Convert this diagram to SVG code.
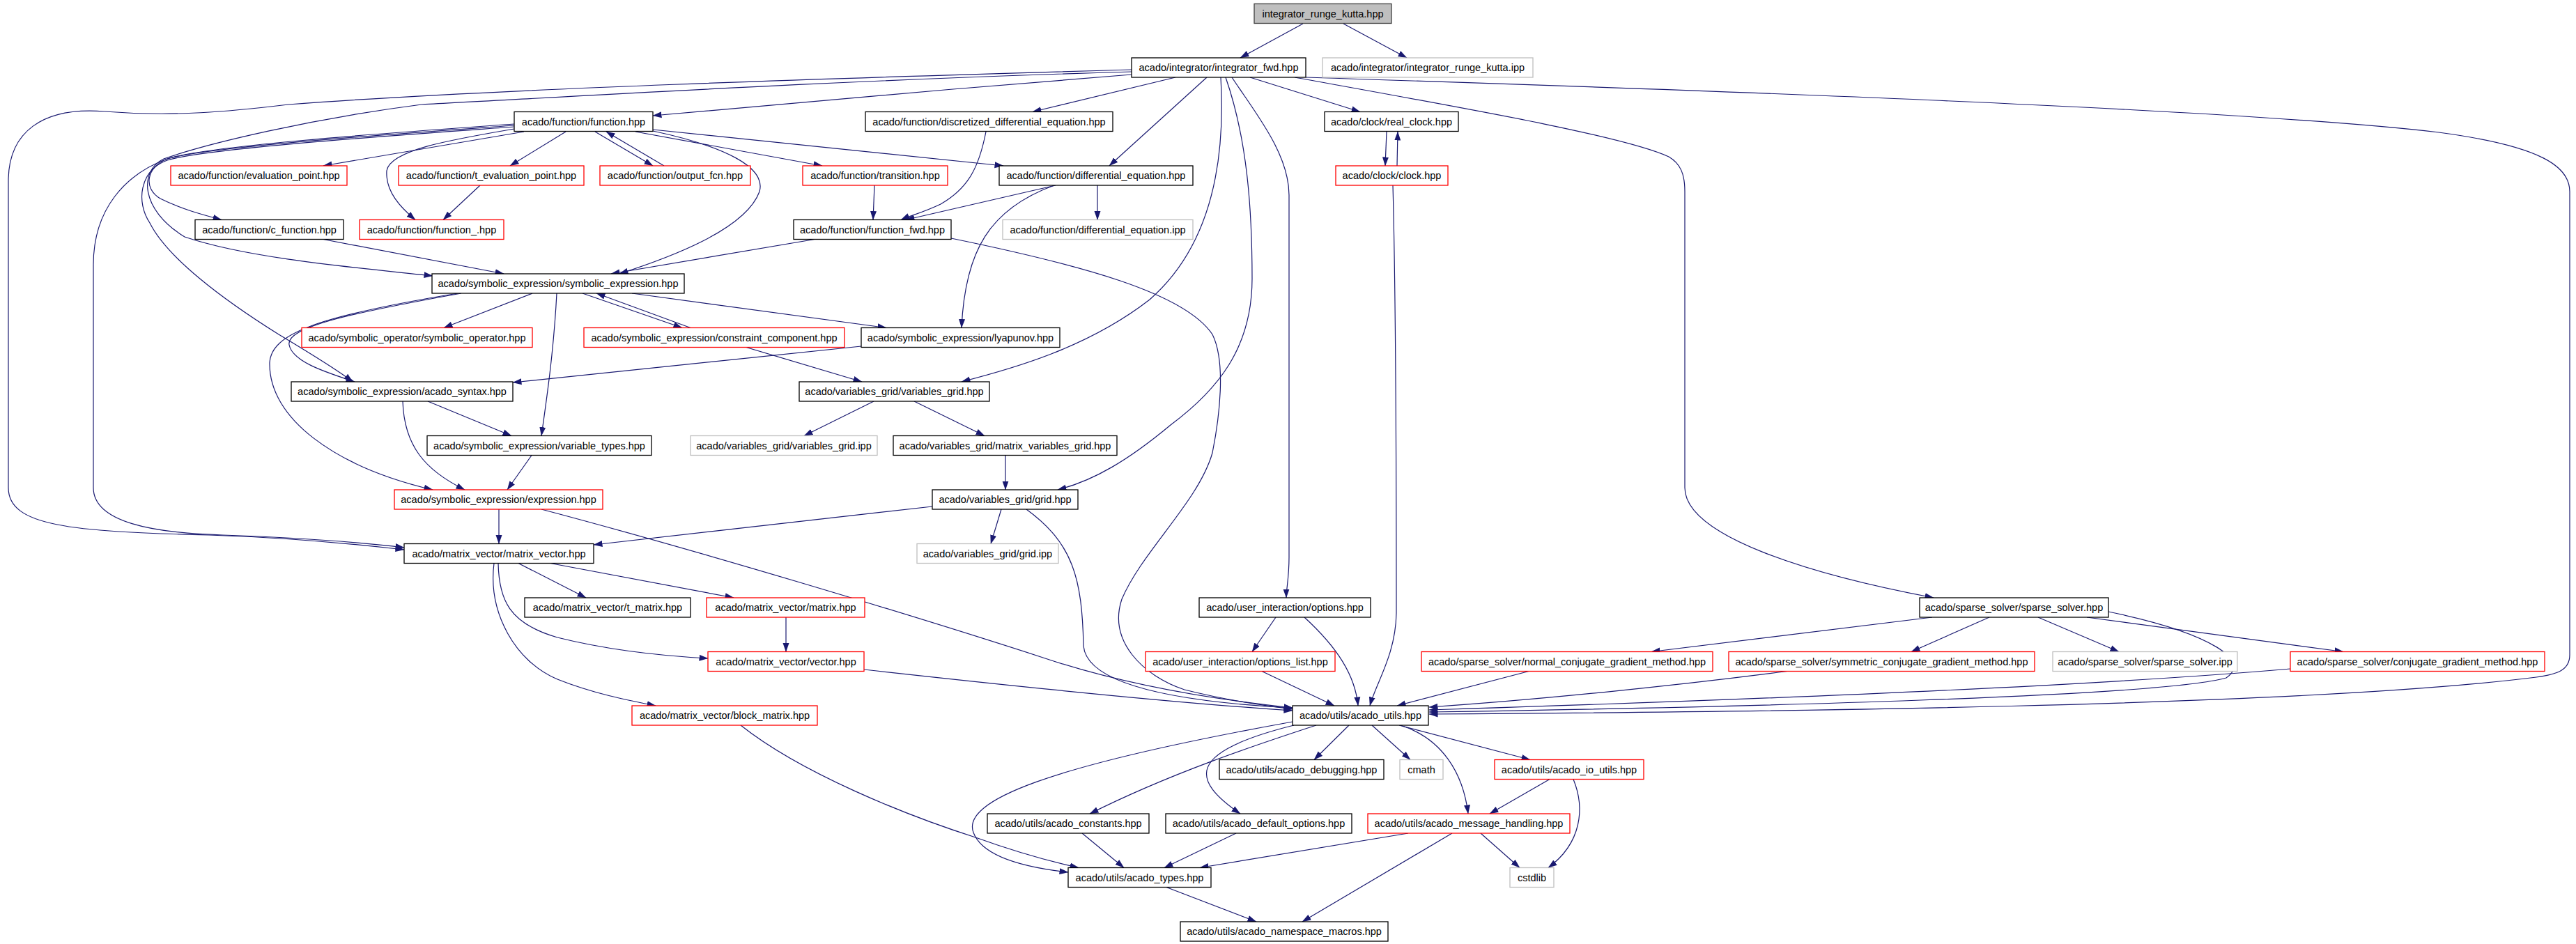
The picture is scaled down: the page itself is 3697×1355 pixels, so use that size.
<svg xmlns="http://www.w3.org/2000/svg" width="3697" height="1355" viewBox="0 0 3697 1355">
<style>
rect.n{fill:#fff;stroke:#000;stroke-width:1.3}
rect.r{fill:#fff;stroke:#ff0000;stroke-width:1.3}
rect.g{fill:#fff;stroke:#bfbfbf;stroke-width:1.3}
rect.root{fill:#bfbfbf;stroke:#404040;stroke-width:1.3}
text{font-family:"Liberation Sans",Arial,sans-serif;font-size:14.5px;text-anchor:middle;fill:#000}
path.e{fill:none;stroke:#191970;stroke-width:1.2;marker-end:url(#a)}
</style>
<defs>
<marker id="a" markerUnits="userSpaceOnUse" markerWidth="13" markerHeight="10" viewBox="0 0 13 10" refX="12.5" refY="5" orient="auto"><path d="M0,0.5 L13,5 L0,9.5 z" fill="#191970"/></marker>
</defs>
<rect x="0" y="0" width="3697" height="1355" fill="#fff"/>
<g id="edges">
<path class="e" d="M1870,34 L1780,83"/>
<path class="e" d="M1928,34 L2019,83"/>
<path class="e" d="M1624,107 C1400,125 1100,150 937,166"/>
<path class="e" d="M1687,111 L1482,160.5"/>
<path class="e" d="M1732,111 L1592,238"/>
<path class="e" d="M1794,111 L1952,160.5"/>
<path class="e" d="M1858,111 C2100,155 2330,195 2395,225 C2412,235 2418,250 2418,275 L2418,700 C2418,770 2600,825 2775,858"/>
<path class="e" d="M1874,111 C2400,128 3200,155 3500,190 C3650,210 3688,240 3688,275 L3688,940 C3688,962 3670,968 3640,972 C3300,1015 2500,1022 2051,1025"/>
<path class="e" d="M1624,100 C1200,112 700,128 414,150 C330,160 250,168 150,160 C60,153 12,190 12,260 L12,700 C12,755 100,763 300,768 C420,772 520,782 580,789"/>
<path class="e" d="M1624,103 C1200,115 800,140 605,150 C450,170 300,205 235,228 C200,245 200,300 265,340 C360,372 520,385 621,396"/>
<path class="e" d="M738,180 C600,190 300,210 240,228 C210,240 205,270 230,285 C260,300 290,308 318,315.5"/>
<path class="e" d="M738,182 C600,192 300,212 240,230 C200,245 195,290 215,320 C240,370 320,430 400,480 C450,510 490,535 506,548"/>
<path class="e" d="M738,178 C600,188 300,208 240,228 C180,250 134,300 134,380 L134,700 C134,750 220,765 320,768 C440,772 530,780 580,786"/>
<path class="e" d="M738,185 C650,200 560,215 555,245 C553,275 575,298 596,315.5"/>
<path class="e" d="M752,189 L464,238"/>
<path class="e" d="M812,189 L732,238"/>
<path class="e" d="M854,189 L937,238"/>
<path class="e" d="M953,238 L870,189"/>
<path class="e" d="M912,189 L1180,238"/>
<path class="e" d="M937,186 L1440,238"/>
<path class="e" d="M937,188 C1040,210 1100,240 1090,275 C1070,330 960,370 889,393"/>
<path class="e" d="M689,266 L636,315.5"/>
<path class="e" d="M1255,266 L1253,315.5"/>
<path class="e" d="M1515,266 L1300,315.5"/>
<path class="e" d="M1415,189 C1405,240 1390,270 1350,293 C1325,305 1305,310 1293,315.5"/>
<path class="e" d="M1575,266 L1575,315.5"/>
<path class="e" d="M1513,266 C1420,300 1385,360 1380,470.5"/>
<path class="e" d="M1169,343.5 L877,393"/>
<path class="e" d="M1365,342 C1550,380 1700,420 1740,480 C1760,520 1750,600 1740,650 C1720,720 1640,790 1610,860 C1590,920 1640,970 1700,990 C1760,1005 1810,1012 1855,1018"/>
<path class="e" d="M464,343.5 L723,393"/>
<path class="e" d="M1990,189 L1988,238"/>
<path class="e" d="M2005,238 L2006,189"/>
<path class="e" d="M1999,266 C2004,450 2004,750 2004,880 C2003,940 1975,980 1966,1013"/>
<path class="e" d="M764,421 L637,470.5"/>
<path class="e" d="M836,421 L979,470.5"/>
<path class="e" d="M991,470.5 L856,421"/>
<path class="e" d="M907,421 L1272,470.5"/>
<path class="e" d="M799,421 C795,500 785,570 777,625.5"/>
<path class="e" d="M662,421 C500,450 410,470 415,495 C420,520 470,535 509,548"/>
<path class="e" d="M657,421 C450,455 390,480 387,520 C385,600 480,670 621,703"/>
<path class="e" d="M1071,498.5 L1237,548"/>
<path class="e" d="M1236,497 L736,549"/>
<path class="e" d="M614,576 L734,625.5"/>
<path class="e" d="M578,576 C580,640 610,675 667,703"/>
<path class="e" d="M763,653.5 L728,703"/>
<path class="e" d="M1254,576 L1154,625.5"/>
<path class="e" d="M1312,576 L1413,625.5"/>
<path class="e" d="M1443,653.5 L1443,703"/>
<path class="e" d="M1752,111 C1760,250 1730,360 1650,430 C1560,500 1450,530 1380,548"/>
<path class="e" d="M1759,111 C1790,200 1797,300 1797,400 C1797,500 1747,560 1680,610 C1620,660 1570,690 1518,703"/>
<path class="e" d="M1768,111 C1800,160 1850,220 1850,280 L1850,800 C1850,830 1846,845 1846,858"/>
<path class="e" d="M1338,727 L852,782"/>
<path class="e" d="M1437,731 L1422,780.5"/>
<path class="e" d="M1473,731 C1540,780 1553,830 1555,927 C1560,985 1700,1008 1855,1016"/>
<path class="e" d="M716,731 L716,780.5"/>
<path class="e" d="M777,731 C1000,790 1300,880 1500,945 C1620,985 1750,1005 1855,1016"/>
<path class="e" d="M744,808.5 L841,858"/>
<path class="e" d="M790,808.5 L1053,858"/>
<path class="e" d="M715,808.5 C716,860 730,895 800,915 C880,935 960,942 1016,945"/>
<path class="e" d="M709,808.5 C700,880 740,950 800,975 C850,995 900,1005 941,1013"/>
<path class="e" d="M1128,886 L1128,935.5"/>
<path class="e" d="M1240,961 C1500,990 1700,1010 1855,1020"/>
<path class="e" d="M1063,1041 C1150,1110 1300,1170 1400,1202 C1450,1220 1500,1235 1548,1245.5"/>
<path class="e" d="M1831,886 L1797,935.5"/>
<path class="e" d="M1872,886 C1920,930 1945,970 1949,1013"/>
<path class="e" d="M1811,963.5 L1915,1013"/>
<path class="e" d="M2773,886 L2370,935.5"/>
<path class="e" d="M2855,886 L2743,935.5"/>
<path class="e" d="M2925,886 L3041,935.5"/>
<path class="e" d="M2995,886 L3363,935.5"/>
<path class="e" d="M3026,878 C3180,910 3230,950 3195,973 C3100,1000 2500,1015 2051,1022"/>
<path class="e" d="M2194,963.5 L2005,1013"/>
<path class="e" d="M2565,963.5 C2400,985 2200,1005 2051,1015"/>
<path class="e" d="M3287,960 C3000,985 2500,1005 2051,1019"/>
<path class="e" d="M1936,1041 L1886,1090.5"/>
<path class="e" d="M1969,1041 L2024,1090.5"/>
<path class="e" d="M2008,1041 L2196,1090.5"/>
<path class="e" d="M2010,1041 C2070,1060 2100,1110 2107,1168"/>
<path class="e" d="M1889,1041 C1800,1070 1680,1110 1564,1168"/>
<path class="e" d="M1857,1041 C1700,1080 1710,1120 1780,1168"/>
<path class="e" d="M1855,1036 C1500,1100 1380,1150 1397,1195 C1410,1230 1470,1245 1533,1252"/>
<path class="e" d="M2224,1118.5 L2138,1168"/>
<path class="e" d="M2258,1118.5 C2275,1160 2270,1210 2222,1245.5"/>
<path class="e" d="M2125,1196 L2181,1245.5"/>
<path class="e" d="M2021,1196 L1722,1245.5"/>
<path class="e" d="M2084,1196 L1869,1323"/>
<path class="e" d="M1553,1196 L1613,1245.5"/>
<path class="e" d="M1774,1196 L1671,1245.5"/>
<path class="e" d="M1674,1273.5 L1803,1323"/>
</g>
<g id="irk"><rect class="root" x="1800" y="5.5" width="197" height="28"/><text x="1898.5" y="24.5">integrator_runge_kutta.hpp</text></g>
<g id="ifwd"><rect class="n" x="1624" y="83" width="250" height="28"/><text x="1749" y="102">acado/integrator/integrator_fwd.hpp</text></g>
<g id="irkipp"><rect class="g" x="1898" y="83" width="302" height="28"/><text x="2049" y="102">acado/integrator/integrator_runge_kutta.ipp</text></g>
<g id="function"><rect class="n" x="738" y="160.5" width="199" height="28"/><text x="837.5" y="179.5">acado/function/function.hpp</text></g>
<g id="discretized"><rect class="n" x="1242" y="160.5" width="355" height="28"/><text x="1419.5" y="179.5">acado/function/discretized_differential_equation.hpp</text></g>
<g id="realclock"><rect class="n" x="1901" y="160.5" width="192" height="28"/><text x="1997" y="179.5">acado/clock/real_clock.hpp</text></g>
<g id="evalpt"><rect class="r" x="245" y="238" width="253" height="28"/><text x="371.5" y="257">acado/function/evaluation_point.hpp</text></g>
<g id="tevalpt"><rect class="r" x="572" y="238" width="266" height="28"/><text x="705" y="257">acado/function/t_evaluation_point.hpp</text></g>
<g id="outputfcn"><rect class="r" x="861" y="238" width="216" height="28"/><text x="969" y="257">acado/function/output_fcn.hpp</text></g>
<g id="transition"><rect class="r" x="1152" y="238" width="208" height="28"/><text x="1256" y="257">acado/function/transition.hpp</text></g>
<g id="diffeq"><rect class="n" x="1434" y="238" width="278" height="28"/><text x="1573" y="257">acado/function/differential_equation.hpp</text></g>
<g id="clock"><rect class="r" x="1917" y="238" width="161" height="28"/><text x="1997.5" y="257">acado/clock/clock.hpp</text></g>
<g id="cfunction"><rect class="n" x="280" y="315.5" width="213" height="28"/><text x="386.5" y="334.5">acado/function/c_function.hpp</text></g>
<g id="function_"><rect class="r" x="516" y="315.5" width="207" height="28"/><text x="619.5" y="334.5">acado/function/function_.hpp</text></g>
<g id="functionfwd"><rect class="n" x="1139" y="315.5" width="226" height="28"/><text x="1252" y="334.5">acado/function/function_fwd.hpp</text></g>
<g id="diffeqipp"><rect class="g" x="1439" y="315.5" width="273" height="28"/><text x="1575.5" y="334.5">acado/function/differential_equation.ipp</text></g>
<g id="symexpr"><rect class="n" x="620" y="393" width="362" height="28"/><text x="801" y="412">acado/symbolic_expression/symbolic_expression.hpp</text></g>
<g id="symop"><rect class="r" x="433" y="470.5" width="331" height="28"/><text x="598.5" y="489.5">acado/symbolic_operator/symbolic_operator.hpp</text></g>
<g id="constraint"><rect class="r" x="838" y="470.5" width="374" height="28"/><text x="1025" y="489.5">acado/symbolic_expression/constraint_component.hpp</text></g>
<g id="lyapunov"><rect class="n" x="1236" y="470.5" width="285" height="28"/><text x="1378.5" y="489.5">acado/symbolic_expression/lyapunov.hpp</text></g>
<g id="syntax"><rect class="n" x="418" y="548" width="318" height="28"/><text x="577" y="567">acado/symbolic_expression/acado_syntax.hpp</text></g>
<g id="vargrid"><rect class="n" x="1147" y="548" width="273" height="28"/><text x="1283.5" y="567">acado/variables_grid/variables_grid.hpp</text></g>
<g id="vartypes"><rect class="n" x="613" y="625.5" width="322" height="28"/><text x="774" y="644.5">acado/symbolic_expression/variable_types.hpp</text></g>
<g id="vargridipp"><rect class="g" x="991" y="625.5" width="268" height="28"/><text x="1125" y="644.5">acado/variables_grid/variables_grid.ipp</text></g>
<g id="mvargrid"><rect class="n" x="1282" y="625.5" width="321" height="28"/><text x="1442.5" y="644.5">acado/variables_grid/matrix_variables_grid.hpp</text></g>
<g id="expression"><rect class="r" x="566" y="703" width="299" height="28"/><text x="715.5" y="722">acado/symbolic_expression/expression.hpp</text></g>
<g id="grid"><rect class="n" x="1338" y="703" width="209" height="28"/><text x="1442.5" y="722">acado/variables_grid/grid.hpp</text></g>
<g id="mv"><rect class="n" x="580" y="780.5" width="272" height="28"/><text x="716" y="799.5">acado/matrix_vector/matrix_vector.hpp</text></g>
<g id="gridipp"><rect class="g" x="1316" y="780.5" width="203" height="28"/><text x="1417.5" y="799.5">acado/variables_grid/grid.ipp</text></g>
<g id="tmatrix"><rect class="n" x="753" y="858" width="238" height="28"/><text x="872" y="877">acado/matrix_vector/t_matrix.hpp</text></g>
<g id="matrix"><rect class="r" x="1014" y="858" width="227" height="28"/><text x="1127.5" y="877">acado/matrix_vector/matrix.hpp</text></g>
<g id="options"><rect class="n" x="1721" y="858" width="246" height="28"/><text x="1844" y="877">acado/user_interaction/options.hpp</text></g>
<g id="sparse"><rect class="n" x="2755" y="858" width="271" height="28"/><text x="2890.5" y="877">acado/sparse_solver/sparse_solver.hpp</text></g>
<g id="vector"><rect class="r" x="1016" y="935.5" width="224" height="28"/><text x="1128" y="954.5">acado/matrix_vector/vector.hpp</text></g>
<g id="optlist"><rect class="r" x="1644" y="935.5" width="272" height="28"/><text x="1780" y="954.5">acado/user_interaction/options_list.hpp</text></g>
<g id="normalcg"><rect class="r" x="2040" y="935.5" width="418" height="28"/><text x="2249" y="954.5">acado/sparse_solver/normal_conjugate_gradient_method.hpp</text></g>
<g id="symcg"><rect class="r" x="2481" y="935.5" width="439" height="28"/><text x="2700.5" y="954.5">acado/sparse_solver/symmetric_conjugate_gradient_method.hpp</text></g>
<g id="sparseipp"><rect class="g" x="2946" y="935.5" width="265" height="28"/><text x="3078.5" y="954.5">acado/sparse_solver/sparse_solver.ipp</text></g>
<g id="cg"><rect class="r" x="3287" y="935.5" width="365" height="28"/><text x="3469.5" y="954.5">acado/sparse_solver/conjugate_gradient_method.hpp</text></g>
<g id="blockm"><rect class="r" x="907" y="1013" width="266" height="28"/><text x="1040" y="1032">acado/matrix_vector/block_matrix.hpp</text></g>
<g id="utils"><rect class="n" x="1855" y="1013" width="195" height="28"/><text x="1952.5" y="1032">acado/utils/acado_utils.hpp</text></g>
<g id="debugging"><rect class="n" x="1750" y="1090.5" width="236" height="28"/><text x="1868" y="1109.5">acado/utils/acado_debugging.hpp</text></g>
<g id="cmath"><rect class="g" x="2009" y="1090.5" width="62" height="28"/><text x="2040" y="1109.5">cmath</text></g>
<g id="ioutils"><rect class="r" x="2145" y="1090.5" width="214" height="28"/><text x="2252" y="1109.5">acado/utils/acado_io_utils.hpp</text></g>
<g id="constants"><rect class="n" x="1417" y="1168" width="232" height="28"/><text x="1533" y="1187">acado/utils/acado_constants.hpp</text></g>
<g id="defopts"><rect class="n" x="1673" y="1168" width="267" height="28"/><text x="1806.5" y="1187">acado/utils/acado_default_options.hpp</text></g>
<g id="msg"><rect class="r" x="1963" y="1168" width="290" height="28"/><text x="2108" y="1187">acado/utils/acado_message_handling.hpp</text></g>
<g id="types"><rect class="n" x="1533" y="1245.5" width="205" height="28"/><text x="1635.5" y="1264.5">acado/utils/acado_types.hpp</text></g>
<g id="cstdlib"><rect class="g" x="2167" y="1245.5" width="63" height="28"/><text x="2198.5" y="1264.5">cstdlib</text></g>
<g id="nsmacros"><rect class="n" x="1694" y="1323" width="298" height="28"/><text x="1843" y="1342">acado/utils/acado_namespace_macros.hpp</text></g>
</svg>
